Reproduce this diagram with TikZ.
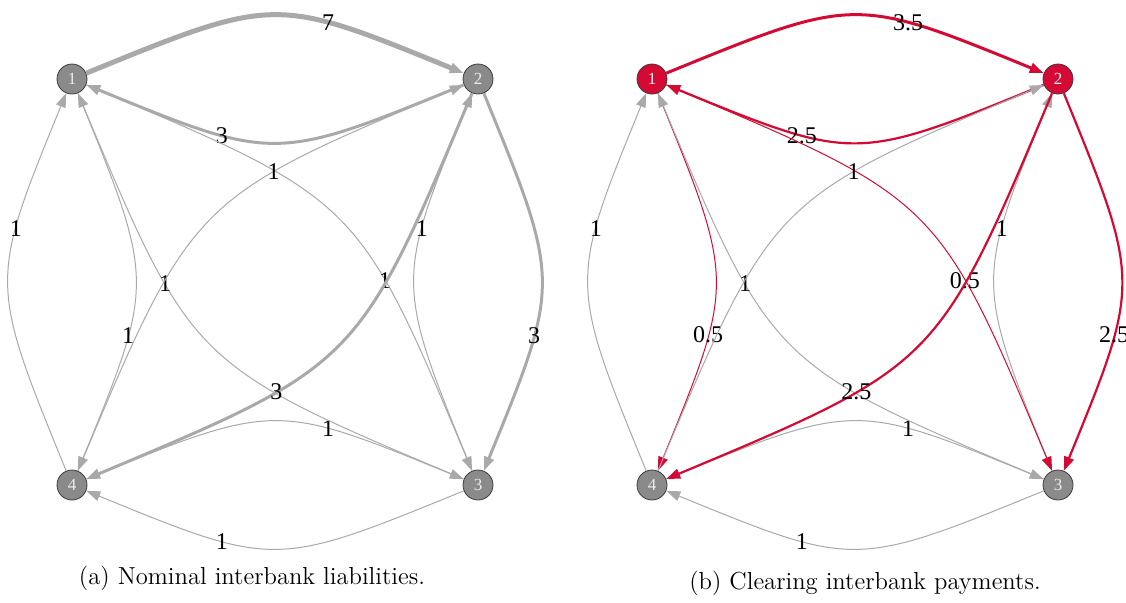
\documentclass[tikz,border=0pt]{standalone}
\usepackage{fontspec}
\usepackage{tikz}
\usetikzlibrary{calc, arrows.meta}
\newfontfamily\labfont{Liberation Serif}
\definecolor{edgegray}{RGB}{169,169,169}
\definecolor{bankgray}{RGB}{138,138,138}
\definecolor{bankrim}{RGB}{60,60,60}
\definecolor{payred}{RGB}{212,10,52}
\tikzset{
  bank/.style={circle, draw=bankrim, fill=bankgray, minimum size=15pt, inner sep=0pt,
    text=white!85!gray, font=\labfont\fontsize{8.5}{8.5}\selectfont},
  paidbank/.style={bank, fill=payred, text=white!92!payred},
  wlab/.style={inner sep=0pt, text=black, font=\labfont\fontsize{12}{12}\selectfont},
  link/.style={-{Triangle[length=7pt,width=5pt]}, line width=0.5pt, draw=edgegray},
  owe1/.style={link},
  owe3/.style={link, line width=1.5pt},
  owe7/.style={link, line width=2.5pt},
  pay1/.style={link, draw=payred},
  pay25/.style={link, draw=payred, line width=1.1pt},
  pay35/.style={link, draw=payred, line width=1.5pt},
  caption/.style={font=\fontsize{12.3}{14}\selectfont}
}

\begin{document}
\begin{tikzpicture}[x=0.5pt, y=-0.5pt]
                \useasboundingbox (0,0) rectangle (1126,602);
                \node[bank] (a1) at (72,79) {1};
                \node[bank] (a2) at (478,79) {2};
                \node[bank] (a3) at (478,485) {3};
                \node[bank] (a4) at (72,485) {4};
                \node[paidbank] (b1) at (652,79) {1};
                \node[paidbank] (b2) at (1058,79) {2};
                \node[bank] (b3) at (1058,485) {3};
                \node[bank] (b4) at (652,485) {4};
                \foreach \s/\t/\w/\e in {1/2/7/owe7, 2/1/3/owe3, 2/3/3/owe3, 3/2/1/owe1,
                  3/4/1/owe1, 4/3/1/owe1, 4/1/1/owe1, 1/4/1/owe1,
                  1/3/1/owe1, 3/1/1/owe1, 2/4/3/owe3, 4/2/1/owe1}
                  \draw[\e] (a\s) .. controls ($(a\s)!.5!(a\t)!.409!90:(a\t)$) .. (a\t)
                    node[wlab, pos=.68] {\w};
                \foreach \s/\t/\w/\e in {1/2/3.5/pay35, 2/1/2.5/pay25, 2/3/2.5/pay25, 3/2/1/owe1,
                  3/4/1/owe1, 4/3/1/owe1, 4/1/1/owe1, 1/4/0.5/pay1,
                  1/3/0.5/pay1, 3/1/1/owe1, 2/4/2.5/pay25, 4/2/1/owe1}
                  \draw[\e] (b\s) .. controls ($(b\s)!.5!(b\t)!.409!90:(b\t)$) .. (b\t)
                    node[wlab, pos=.68] {\w};
                \node[caption] (capa) at (252,578) {(a) Nominal interbank liabilities.};
                \node[caption] (capb) at (865,583) {(b) Clearing interbank payments.};
\end{tikzpicture}
\end{document}
